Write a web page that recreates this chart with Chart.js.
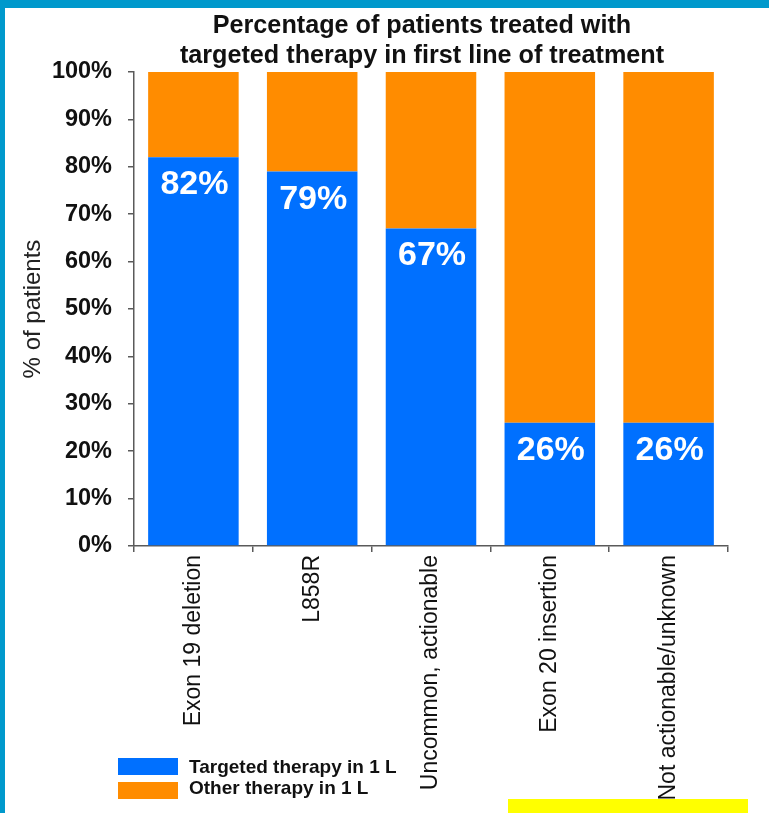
<!DOCTYPE html>
<html>
<head>
<meta charset="utf-8">
<title>Targeted therapy in first line</title>
<script src="https://cdn.jsdelivr.net/npm/chart.js@4.4.1/dist/chart.umd.min.js"></script>
<style>
  html, body { margin: 0; padding: 0; background: #fff; }
  body {
    position: relative; width: 769px; height: 813px; overflow: hidden;
    font-family: "Liberation Sans", Arial, sans-serif; color: #111;
  }
  #grafica { position: absolute; left: 0; top: 0; }
  .franja-sup { position: absolute; left: 0; top: 0; width: 769px; height: 8px; background: #0099cc; }
  .franja-izq { position: absolute; left: 0; top: 0; width: 5px; height: 813px; background: #0099cc; }
  #titulo {
    position: absolute; left: 172px; top: 9px; width: 500px;
    text-align: center; font-weight: bold; font-size: 25.2px; line-height: 30px;
  }
  .caja { position: absolute; left: 118px; width: 60px; height: 17px; }
  .texto { position: absolute; left: 189px; font-weight: bold; font-size: 19px; line-height: 20px; white-space: nowrap; }
  .marca { position: absolute; left: 508px; top: 799px; width: 240px; height: 14px; background: #ffff00; }
</style>
</head>
<body>
<canvas id="grafica" width="769" height="813"></canvas>
<div id="titulo">Percentage of patients treated with<br>targeted therapy in first line of treatment</div>
<div id="leyenda"></div>
<div class="marca"></div>
<div class="franja-sup"></div>
<div class="franja-izq"></div>

<script>
// ==============================
// Datos
// ==============================
const categorias = ["Exon 19 deletion", "L858R", "Uncommon, actionable", "Exon 20 insertion", "Not actionable/unknown"];
const dirigida = [82, 79, 67, 26, 26];
const otra = [18, 21, 33, 74, 74];
const series = ["Targeted therapy in 1 L", "Other therapy in 1 L"];
const colores = ["#0070ff", "#ff8c00"];

const fuente = "'Liberation Sans', Arial, sans-serif";
const gris = "#5a5a5a";

// ==============================
// Etiquetas blancas dentro de las barras azules
// ==============================
const etiquetasValor = {
  id: "etiquetasValor",
  afterDatasetsDraw(chart) {
    const ctx = chart.ctx;
    const meta = chart.getDatasetMeta(0);
    ctx.save();
    ctx.font = "bold 34px " + fuente;
    ctx.fillStyle = "#ffffff";
    ctx.textAlign = "center";
    ctx.textBaseline = "alphabetic";
    meta.data.forEach((barra, i) => {
      ctx.fillText(dirigida[i] + "%", barra.x + 1, barra.y + 37);
    });
    ctx.restore();
  }
};

// ==============================
// Grafica
// ==============================
const ctx = document.getElementById("grafica").getContext("2d");
const grafica = new Chart(ctx, {
  type: "bar",
  data: {
    labels: categorias,
    datasets: [
      { label: series[0], data: dirigida, backgroundColor: colores[0] },
      { label: series[1], data: otra, backgroundColor: colores[1] }
    ]
  },
  options: {
    responsive: false,
    animation: false,
    categoryPercentage: 1,
    barPercentage: 0.762,
    layout: { padding: { top: 72, left: 0, right: 41, bottom: 0 } },
    plugins: {
      legend: { display: false },
      title: { display: false },
      tooltip: { enabled: false }
    },
    scales: {
      x: {
        stacked: true,
        grid: { drawOnChartArea: false, tickLength: 6, color: gris, lineWidth: 1.5 },
        border: { color: gris, width: 1.5 },
        ticks: {
          autoSkip: false, minRotation: 90, maxRotation: 90, padding: 3,
          color: "#111", font: { family: fuente, size: 23 }
        },
        afterFit(scale) { scale.height = 267; }
      },
      y: {
        stacked: true,
        min: 0, max: 100,
        grid: { drawOnChartArea: false, tickLength: 6, color: gris, lineWidth: 1.5 },
        border: { color: gris, width: 1.5 },
        ticks: {
          stepSize: 10, padding: 16, color: "#111",
          font: { family: fuente, size: 23.5, weight: "bold" },
          callback: v => v + "%"
        },
        title: {
          display: true, text: "% of patients", color: "#222",
          font: { family: fuente, size: 24 }, padding: { top: 19, bottom: 0 }
        },
        afterFit(scale) { scale.width = 134; }
      }
    }
  },
  plugins: [etiquetasValor]
});

// ==============================
// Leyenda
// ==============================
const leyenda = document.getElementById("leyenda");
const filas = [{ caja: 758, texto: 757 }, { caja: 782, texto: 778 }];
grafica.data.datasets.forEach((ds, i) => {
  const caja = document.createElement("div");
  caja.className = "caja";
  caja.style.top = filas[i].caja + "px";
  caja.style.background = ds.backgroundColor;
  const texto = document.createElement("div");
  texto.className = "texto";
  texto.style.top = filas[i].texto + "px";
  texto.textContent = ds.label;
  leyenda.appendChild(caja);
  leyenda.appendChild(texto);
});
</script>
</body>
</html>
